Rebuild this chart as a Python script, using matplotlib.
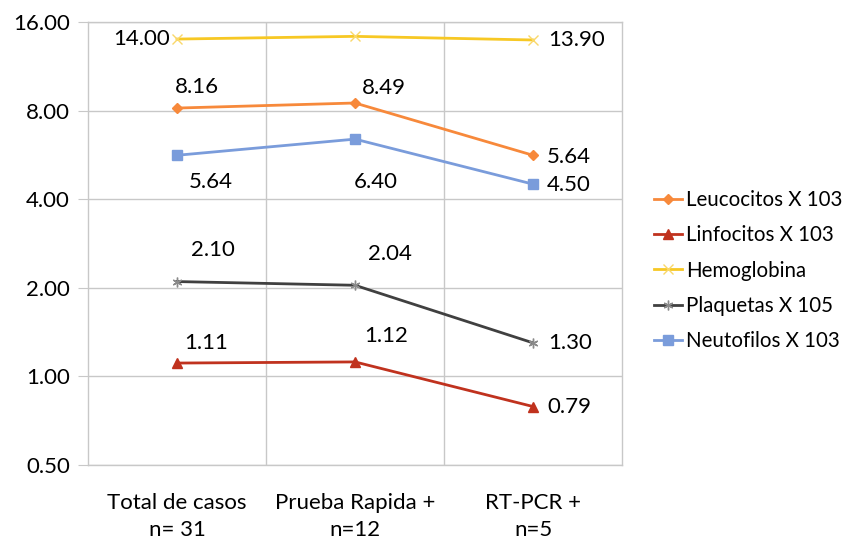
import matplotlib
matplotlib.use("Agg")
import matplotlib.pyplot as plt
from matplotlib.ticker import FixedLocator, FuncFormatter, NullLocator

plt.rcParams['font.family'] = ['Lato', 'DejaVu Sans']

categories = ["Total de casos\nn= 31", "Prueba Rapida +\nn=12", "RT-PCR +\nn=5"]
series_names = ["Leucocitos X 103", "Linfocitos X 103", "Hemoglobina",
                "Plaquetas X 105", "Neutofilos X 103"]
leucocitos = [8.16, 8.49, 5.64]
linfocitos = [1.11, 1.12, 0.79]
hemoglobina = [14.00, 14.3, 13.90]
plaquetas = [2.10, 2.04, 1.30]
neutrofilos = [5.64, 6.40, 4.50]
label_texts = {
    "Leucocitos X 103": ["8.16", "8.49", "5.64"],
    "Linfocitos X 103": ["1.11", "1.12", "0.79"],
    "Hemoglobina": ["14.00", None, "13.90"],
    "Plaquetas X 105": ["2.10", "2.04", "1.30"],
    "Neutofilos X 103": ["5.64", "6.40", "4.50"],
}
y_ticks = [0.5, 1, 2, 4, 8, 16]

values = [leucocitos, linfocitos, hemoglobina, plaquetas, neutrofilos]
colors = ["#F7893B", "#C0321E", "#F7C824", "#404040", "#7A9CDB"]
marker_colors = ["#F7893B", "#C0321E", "#F9D86A", "#8A8A8A", "#7A9CDB"]
markers = ["D", "^", "x", (6, 2, 0), "s"]
msizes = [5, 7, 7, 7, 7]
fs = 16
# label offsets in pixels (dx, dy, ha)
offsets = {
    "Leucocitos X 103": [(20, 21, 'center'), (29, 15, 'center'), (14, -2, 'left')],
    "Linfocitos X 103": [(29, 20, 'center'), (31, 26, 'center'), (14, 0, 'left')],
    "Hemoglobina": [(-7, 0, 'right'), None, (15, 0, 'left')],
    "Plaquetas X 105": [(36, 32, 'center'), (35, 31, 'center'), (15, 0, 'left')],
    "Neutofilos X 103": [(34, -27, 'center'), (21, -43, 'center'), (14, -1, 'left')],
}

fig = plt.figure(figsize=(8.57, 5.44), dpi=100)
ax = fig.add_axes([88/857, 79/544, 534/857, 443/544])

x = list(range(len(categories)))
grid_c = "#C8C8C8"
for i in range(len(categories) - 1):
    ax.axvline(i + 0.5, color=grid_c, lw=1, zorder=0)

for name, vals, c, mc, m, ms in zip(series_names, values, colors, marker_colors, markers, msizes):
    ax.plot(x, vals, color=c, lw=2, marker=m, markersize=ms,
            markeredgecolor=mc, markerfacecolor=mc,
            markeredgewidth=1, label=name, zorder=3)
    for xi, v, t, off in zip(x, vals, label_texts[name], offsets[name]):
        if t is None:
            continue
        dx, dy, ha = off
        ax.annotate(t, (xi, v), xytext=(dx, dy), textcoords='offset pixels',
                    ha=ha, va='center', fontsize=fs, color='black')

ax.set_yscale('log', base=2)
ax.set_ylim(0.5, 16)
ax.set_xlim(-0.5, len(categories) - 0.5)
ax.yaxis.set_major_locator(FixedLocator(y_ticks))
ax.yaxis.set_minor_locator(NullLocator())
ax.yaxis.set_major_formatter(FuncFormatter(lambda v, p: f"{v:.2f}"))
ax.grid(axis='y', color=grid_c, lw=1, zorder=0)
ax.set_xticks(x)
ax.set_xticklabels(categories, fontsize=fs, linespacing=1.45)
ax.tick_params(axis='x', length=0, pad=20)
ax.tick_params(axis='y', length=7, color=grid_c, labelsize=fs, pad=6)
for s in ax.spines.values():
    s.set_color(grid_c)
    s.set_linewidth(1)

fig.legend(loc='upper left', bbox_to_anchor=(646/857, 1 - 182/544), frameon=False,
           fontsize=14.8, handlelength=1.35, handletextpad=0.2, labelspacing=0.74,
           borderaxespad=0)

fig.savefig("out.png", dpi=100)
